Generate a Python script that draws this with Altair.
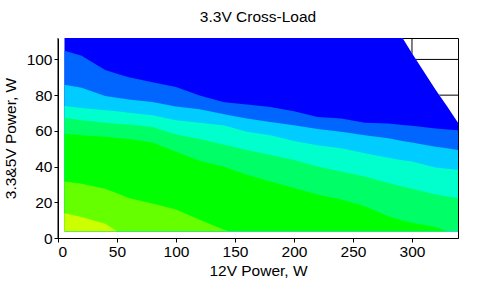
import altair as alt
import pandas as pd

# 12V load sample positions (W)
x_w = [5.5, 20, 40, 50, 60, 80, 100, 120, 140, 145, 160, 180, 200, 220, 240, 260, 280, 292, 300, 320, 330, 339]
# upper limit of tested region (3.3&5V power, W)
top = [112, 112, 112, 112, 112, 112, 112, 112, 112, 112, 112, 112, 112, 112, 112, 112, 112, 112, 103.5, 83, 73.5, 64.5]
# contour boundaries, lowest to highest
b1 = [13.9, 11.7, 8, 3.8, 3.8, 3.8, 3.8, 3.8, 3.8, 3.8, 3.8, 3.8, 3.8, 3.8, 3.8, 3.8, 3.8, 3.8, 3.8, 3.8, 3.8, 3.8]
b2 = [31.7, 30.4, 27.6, 25, 22.4, 19.3, 16, 10.2, 4.8, 3.8, 3.8, 3.8, 3.8, 3.8, 3.8, 3.8, 3.8, 3.8, 3.8, 3.8, 3.8, 3.8]
b3 = [58.4, 57.6, 56.7, 56, 55.4, 53.5, 48.3, 43.2, 40, 38.9, 35.4, 31.7, 28, 24.3, 21.5, 17.8, 12.2, 9.8, 8.5, 6.1, 3.8, 3.8]
b4 = [67.2, 66, 64.6, 64, 63.5, 62.2, 58, 55.4, 52.4, 51.6, 49.3, 46.5, 43.7, 40, 37.2, 34.5, 30.8, 28.8, 27.6, 24.3, 23.3, 22.4]
b5 = [73.9, 72.8, 71.5, 71, 70.2, 68.7, 66, 64.6, 63.2, 62.3, 59.5, 57.6, 54.3, 52, 50.2, 47.4, 45, 43.5, 42.8, 39.5, 38.8, 38.2]
b6 = [85.8, 84.1, 79.5, 78.5, 77.6, 76.1, 73.7, 72.1, 69.5, 68.8, 66.9, 65, 63.2, 61, 59.5, 57.6, 55.8, 54.3, 53.5, 51.1, 50.2, 49.3]
b7 = [104.8, 102, 94.1, 92, 90, 87.2, 84.5, 79.8, 76.1, 75.8, 74.7, 73.4, 71, 67.8, 66.9, 64.6, 64.1, 63.3, 62.8, 61.3, 60.8, 60.4]
y_min = 3.8

band_colors = ["#ccff00", "#66ff00", "#00ff00", "#00ff66", "#00ffcc", "#00ccff", "#0066ff", "#0000ff"]
uppers = [b1, b2, b3, b4, b5, b6, b7, top]

x_ticks = [0, 50, 100, 150, 200, 250, 300]
y_ticks = [0, 20, 40, 60, 80, 100]

FONT = "Liberation Sans"
xscale = alt.Scale(domain=[0, 339], nice=False, zero=False)
yscale = alt.Scale(domain=[0, 112], nice=False, zero=False)
xaxis = alt.Axis(values=x_ticks, title="12V Power, W", grid=False, zindex=1, titlePadding=4)
yaxis = alt.Axis(values=y_ticks, title="3.3&5V Power, W", grid=False, zindex=1, titlePadding=8)

layers = []
# grid lines
layers.append(alt.Chart(pd.DataFrame({"x": x_ticks})).mark_rule(color="black", strokeWidth=1)
              .encode(x=alt.X("x:Q", scale=xscale, axis=xaxis)))
layers.append(alt.Chart(pd.DataFrame({"y": y_ticks})).mark_rule(color="black", strokeWidth=1)
              .encode(y=alt.Y("y:Q", scale=yscale, axis=yaxis)))
# white mask over untested strips
mask = pd.DataFrame({"x": [0] + x_w, "lo": [0] * (len(x_w) + 1), "hi": [top[0]] + top})
layers.append(alt.Chart(mask).mark_area(color="white", opacity=1)
              .encode(x=alt.X("x:Q", scale=xscale, axis=xaxis),
                      y=alt.Y("lo:Q", scale=yscale, axis=yaxis), y2="hi:Q"))
# contour bands, highest first, each from floor to its upper boundary
for k in range(len(uppers) - 1, -1, -1):
    df = pd.DataFrame({"x": x_w, "lo": [y_min] * len(x_w), "hi": uppers[k]})
    layers.append(alt.Chart(df).mark_area(color=band_colors[k], opacity=1, clip=True)
                  .encode(x=alt.X("x:Q", scale=xscale, axis=xaxis),
                          y=alt.Y("lo:Q", scale=yscale, axis=yaxis), y2="hi:Q"))

chart = alt.layer(*layers).properties(
    width=400, height=200,
    padding={"left": 58, "top": 38, "right": 29, "bottom": 48},
    autosize=alt.AutoSizeParams(type="none"),
    background="white",
    title=alt.TitleParams("3.3V Cross-Load", font=FONT, fontSize=15.5, fontWeight="normal",
                          color="black", anchor="middle", offset=12),
).configure_view(stroke="black", strokeWidth=1).configure_axis(
    labelFont=FONT, labelFontSize=15.5, labelColor="black", labelPadding=2,
    titleFont=FONT, titleFontSize=15.5, titleFontWeight="normal", titleColor="black",
    tickColor="black", tickSize=4, domainColor="black", domainWidth=1,
)

chart.save("out.html", embed_options={"renderer": "svg", "actions": False})
